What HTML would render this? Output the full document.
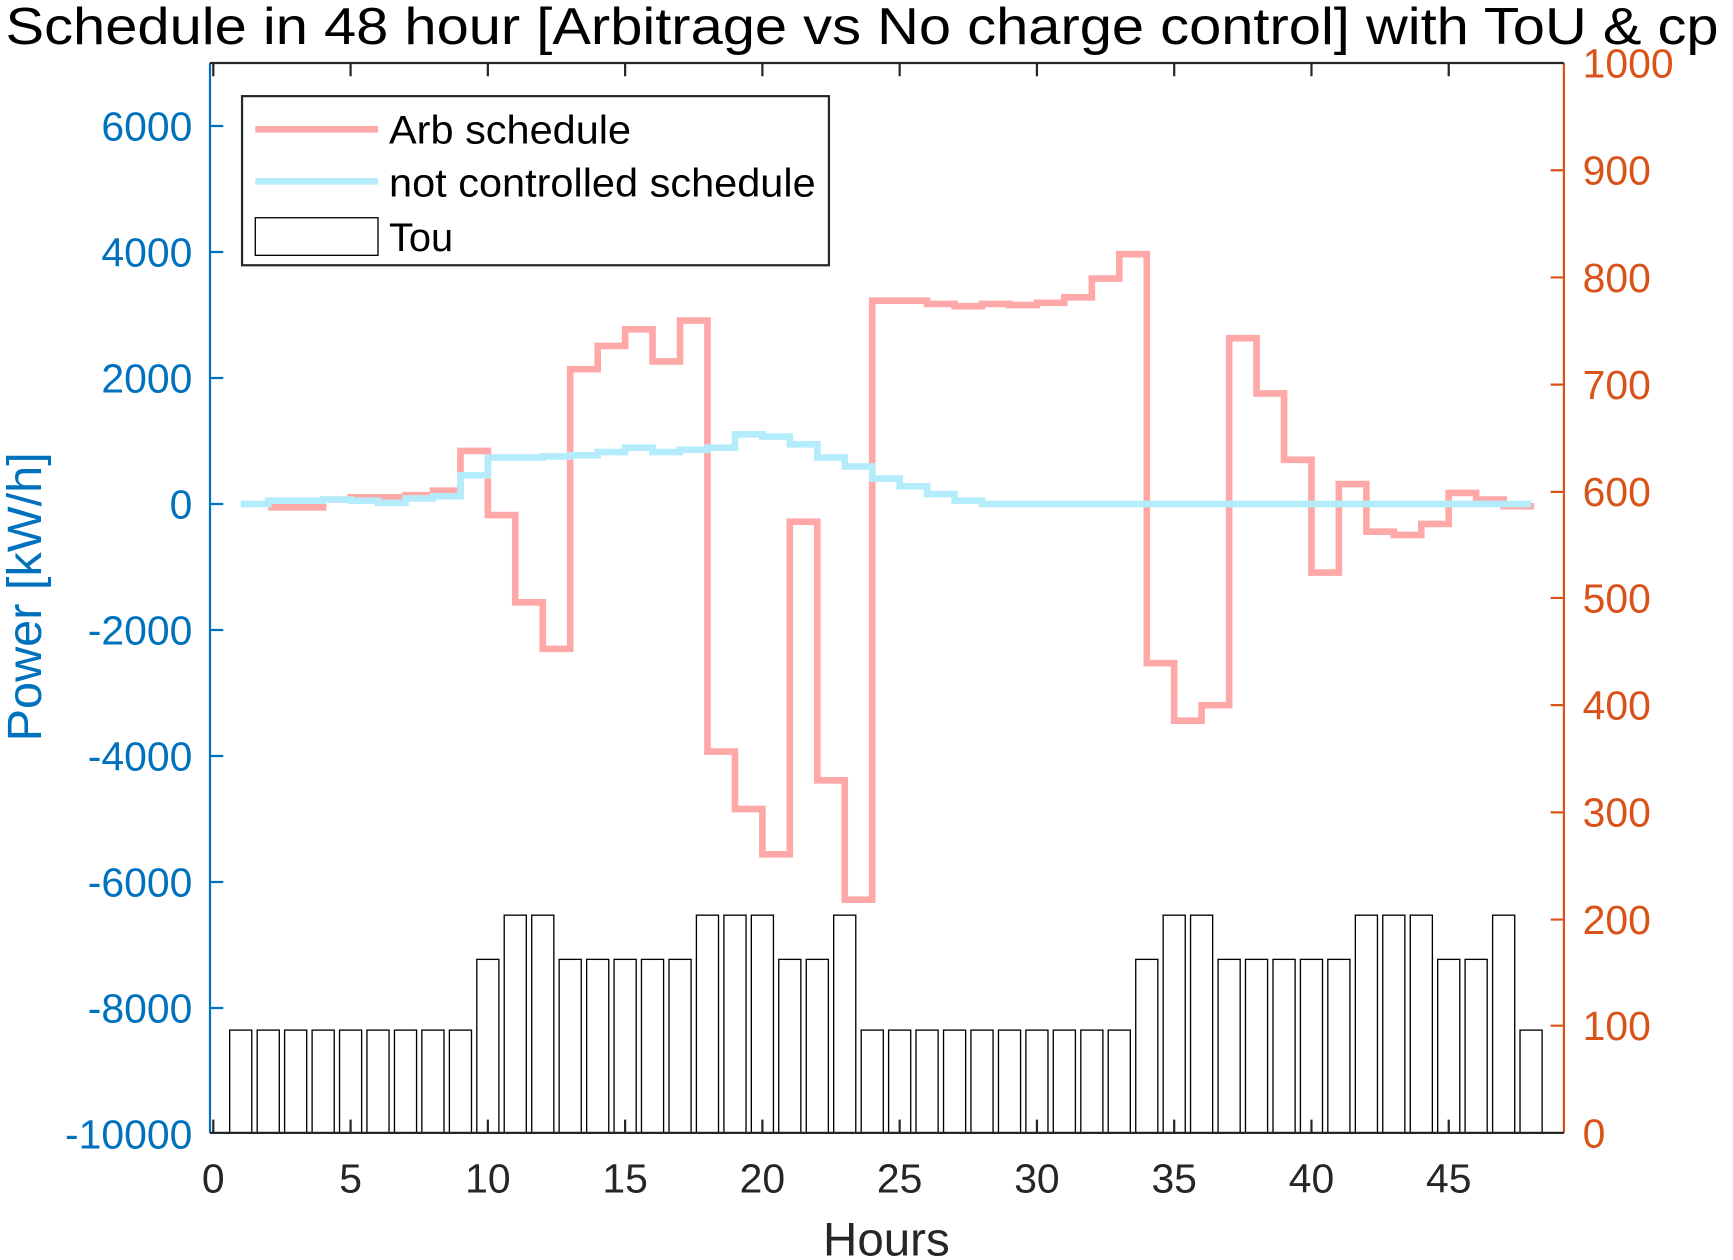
<!DOCTYPE html>
<html><head><meta charset="utf-8"><style>html,body{margin:0;padding:0;background:#fff}svg{display:block}</style></head>
<body>
<svg width="1733" height="1260" viewBox="0 0 1568 1140" preserveAspectRatio="none" xmlns="http://www.w3.org/2000/svg" font-family="Liberation Sans, sans-serif">
<rect width="1568" height="1140" fill="#fff"/>
<text x="5" y="40" font-size="47" fill="#000" textLength="1550" lengthAdjust="spacingAndGlyphs">Schedule in 48 hour [Arbitrage vs No charge control] with ToU &amp; cp</text>
<!-- bars -->
<g fill="#fff" stroke="#000" stroke-width="1.2">
<rect x="207.8" y="932" width="20" height="93"/><rect x="232.7" y="932" width="20" height="93"/><rect x="257.5" y="932" width="20" height="93"/><rect x="282.4" y="932" width="20" height="93"/><rect x="307.2" y="932" width="20" height="93"/><rect x="332" y="932" width="20" height="93"/><rect x="356.9" y="932" width="20" height="93"/><rect x="381.7" y="932" width="20" height="93"/><rect x="406.6" y="932" width="20" height="93"/>
<rect x="431.4" y="868" width="20" height="157"/><rect x="456.2" y="828" width="20" height="197"/><rect x="481.1" y="828" width="20" height="197"/>
<rect x="505.9" y="868" width="20" height="157"/><rect x="530.8" y="868" width="20" height="157"/><rect x="555.6" y="868" width="20" height="157"/><rect x="580.4" y="868" width="20" height="157"/><rect x="605.3" y="868" width="20" height="157"/>
<rect x="630.1" y="828" width="20" height="197"/><rect x="655" y="828" width="20" height="197"/><rect x="679.8" y="828" width="20" height="197"/>
<rect x="704.6" y="868" width="20" height="157"/><rect x="729.5" y="868" width="20" height="157"/><rect x="754.3" y="828" width="20" height="197"/>
<rect x="779.2" y="932" width="20" height="93"/><rect x="804" y="932" width="20" height="93"/><rect x="828.8" y="932" width="20" height="93"/><rect x="853.7" y="932" width="20" height="93"/><rect x="878.5" y="932" width="20" height="93"/><rect x="903.4" y="932" width="20" height="93"/><rect x="928.2" y="932" width="20" height="93"/><rect x="953" y="932" width="20" height="93"/><rect x="977.9" y="932" width="20" height="93"/><rect x="1002.7" y="932" width="20" height="93"/>
<rect x="1027.6" y="868" width="20" height="157"/><rect x="1052.4" y="828" width="20" height="197"/><rect x="1077.2" y="828" width="20" height="197"/>
<rect x="1102.1" y="868" width="20" height="157"/><rect x="1126.9" y="868" width="20" height="157"/><rect x="1151.8" y="868" width="20" height="157"/><rect x="1176.6" y="868" width="20" height="157"/><rect x="1201.4" y="868" width="20" height="157"/>
<rect x="1226.3" y="828" width="20" height="197"/><rect x="1251.1" y="828" width="20" height="197"/><rect x="1276" y="828" width="20" height="197"/>
<rect x="1300.8" y="868" width="20" height="157"/><rect x="1325.6" y="868" width="20" height="157"/><rect x="1350.5" y="828" width="20" height="197"/><rect x="1375.3" y="932" width="20" height="93"/>
</g>
<!-- series -->
<path d="M242.7 459 H292.4 V452 H317.2 V450 H366.9 V448 H391.7 V444 H416.6 V408 H441.4 V466 H466.2 V545 H491.1 V587 H515.9 V334 H540.8 V313 H565.6 V298 H590.4 V327 H615.3 V290 H640.1 V680 H665 V732 H689.8 V773 H714.6 V472 H739.5 V706 H764.3 V814 H789.2 V272 H838.8 V275 H863.7 V277 H888.5 V275 H913.4 V276 H938.2 V274 H963 V269 H987.9 V252 H1012.7 V230 H1037.6 V600 H1062.4 V652 H1087.2 V638 H1112.1 V306 H1136.9 V356 H1161.8 V416 H1186.6 V518 H1211.4 V438 H1236.3 V481 H1261.1 V484 H1286 V474 H1310.8 V446 H1335.6 V452 H1360.5 V458 H1388" fill="none" stroke="#ffa8a8" stroke-width="6"/>
<path d="M217.8 456 H242.7 V453 H292.4 V452 H317.2 V453 H342 V455 H366.9 V451 H391.7 V449 H416.6 V430 H441.4 V414 H491.1 V413 H515.9 V412 H540.8 V409 H565.6 V405 H590.4 V409 H615.3 V407 H640.1 V405 H665 V393 H689.8 V395 H714.6 V402 H739.5 V414 H764.3 V422 H789.2 V433 H814 V440 H838.8 V447 H863.7 V453 H888.5 V456 H1385.3" fill="none" stroke="#b5ecfc" stroke-width="6"/>
<!-- axes -->
<line x1="190" y1="57" x2="190" y2="1025" stroke="#0072bd" stroke-width="2"/>
<line x1="1415" y1="57" x2="1415" y2="1025" stroke="#d95319" stroke-width="2"/>
<line x1="190" y1="57" x2="1415" y2="57" stroke="#262626" stroke-width="2"/>
<line x1="190" y1="1025" x2="1415" y2="1025" stroke="#262626" stroke-width="2"/>
<g stroke="#262626" stroke-width="2">
<path d="M193 57v12M317.2 57v12M441.4 57v12M565.6 57v12M689.8 57v12M814 57v12M938.2 57v12M1062.4 57v12M1186.6 57v12M1310.8 57v12"/>
<path d="M193 1025v-12M317.2 1025v-12M441.4 1025v-12M565.6 1025v-12M689.8 1025v-12M814 1025v-12M938.2 1025v-12M1062.4 1025v-12M1186.6 1025v-12M1310.8 1025v-12"/>
</g>
<path d="M190 114h12M190 228h12M190 342h12M190 456h12M190 570h12M190 684h12M190 798h12M190 912h12" stroke="#0072bd" stroke-width="2"/>
<path d="M1415 154h-12M1415 251h-12M1415 348h-12M1415 445h-12M1415 541h-12M1415 638h-12M1415 735h-12M1415 832h-12M1415 928h-12" stroke="#d95319" stroke-width="2"/>
<g font-size="37" fill="#0072bd" text-anchor="end">
<text x="174" y="127">6000</text><text x="174" y="241">4000</text><text x="174" y="355">2000</text><text x="174" y="469">0</text><text x="174" y="583">-2000</text><text x="174" y="697">-4000</text><text x="174" y="811">-6000</text><text x="174" y="925">-8000</text><text x="174" y="1039">-10000</text>
</g>
<g font-size="37" fill="#d95319">
<text x="1432" y="70">1000</text><text x="1432" y="167">900</text><text x="1432" y="264">800</text><text x="1432" y="361">700</text><text x="1432" y="458">600</text><text x="1432" y="554">500</text><text x="1432" y="651">400</text><text x="1432" y="748">300</text><text x="1432" y="845">200</text><text x="1432" y="941">100</text><text x="1432" y="1038">0</text>
</g>
<g font-size="37" fill="#262626" text-anchor="middle">
<text x="193" y="1079">0</text><text x="317.2" y="1079">5</text><text x="441.4" y="1079">10</text><text x="565.6" y="1079">15</text><text x="689.8" y="1079">20</text><text x="814" y="1079">25</text><text x="938.2" y="1079">30</text><text x="1062.4" y="1079">35</text><text x="1186.6" y="1079">40</text><text x="1310.8" y="1079">45</text>
</g>
<text x="802" y="1136" font-size="43" fill="#262626" text-anchor="middle">Hours</text>
<text transform="translate(37 540) rotate(-90)" font-size="44" fill="#0072bd" text-anchor="middle">Power [kW/h]</text>
<!-- legend -->
<rect x="219" y="87" width="531" height="153" fill="#fff" stroke="#262626" stroke-width="2"/>
<line x1="231" y1="117" x2="342" y2="117" stroke="#ffa8a8" stroke-width="6"/>
<line x1="231" y1="164" x2="342" y2="164" stroke="#b5ecfc" stroke-width="6"/>
<rect x="231" y="197" width="111" height="34" fill="#fff" stroke="#000" stroke-width="1.2"/>
<g font-size="36" fill="#000">
<text x="352" y="130" textLength="219" lengthAdjust="spacingAndGlyphs">Arb schedule</text><text x="352" y="178" textLength="386" lengthAdjust="spacingAndGlyphs">not controlled schedule</text><text x="352" y="227">Tou</text>
</g>
</svg>
</body></html>
